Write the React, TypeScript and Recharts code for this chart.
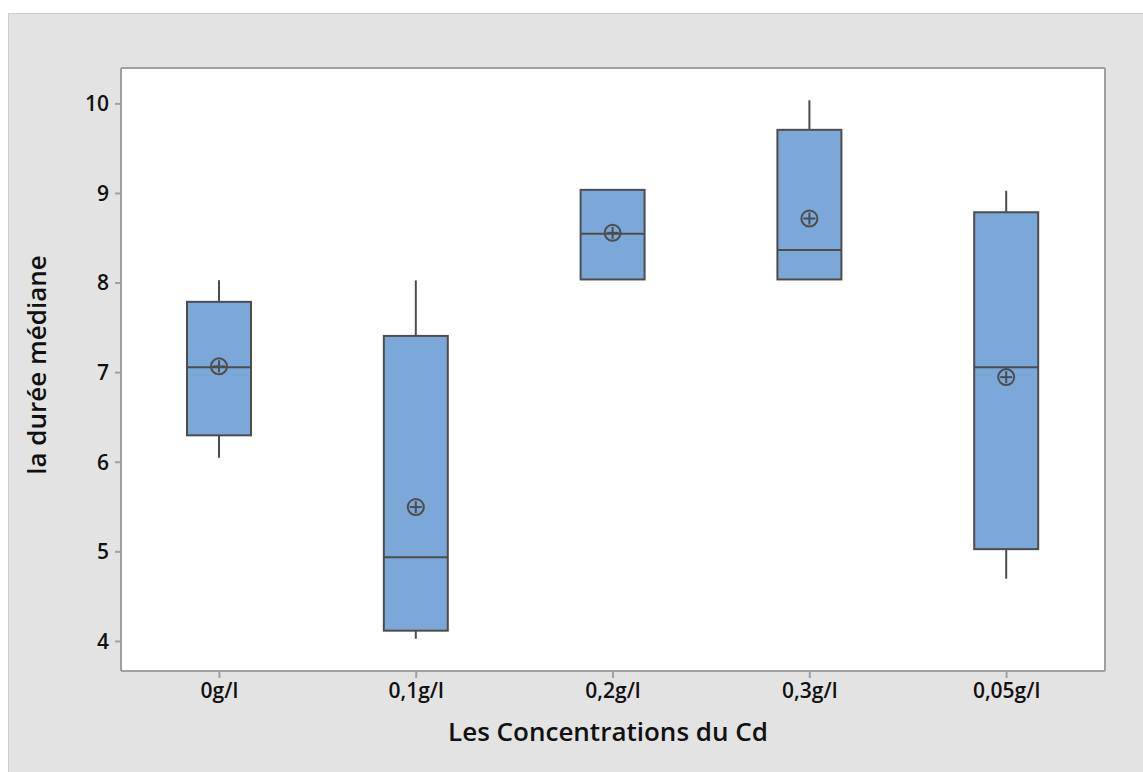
import { ComposedChart, Bar, XAxis, YAxis, CartesianGrid } from 'recharts'

const categories = ['0g/l', '0,1g/l', '0,2g/l', '0,3g/l', '0,05g/l']
const whiskerLow = [6.05, 4.03, 8.04, 8.04, 4.7]
const q1 = [6.3, 4.12, 8.04, 8.04, 5.03]
const medians = [7.06, 4.94, 8.55, 8.37, 7.06]
const q3 = [7.79, 7.41, 9.04, 9.71, 8.79]
const whiskerHigh = [8.03, 8.03, 9.04, 10.04, 9.03]
const means = [7.07, 5.5, 8.56, 8.72, 6.95]
const yTicks = [4, 5, 6, 7, 8, 9, 10]

const data = categories.map((name, i) => ({
    name,
    low: whiskerLow[i],
    q1: q1[i],
    median: medians[i],
    q3: q3[i],
    high: whiskerHigh[i],
    mean: means[i],
}))

const FONT = '"Open Sans", "Noto Sans", sans-serif'
const INK = '#4d4d4d'
const AXIS = '#a0a0a0'

function BoxShape(props: any) {
    const { x, y, width, height, payload } = props
    const top = Math.min(y, y + height)
    const h = Math.abs(height)
    const ppu = h / (payload.q3 - payload.q1)
    const py = (v: number) => top + (payload.q3 - v) * ppu
    const cx = x + width / 2
    const my = py(payload.mean)
    return (
        <g>
            <line x1={cx} x2={cx} y1={py(payload.high)} y2={top} stroke={INK} strokeWidth={2} />
            <line x1={cx} x2={cx} y1={top + h} y2={py(payload.low)} stroke={INK} strokeWidth={2} />
            <rect x={x} y={top} width={width} height={h} fill="#7ba7d9" stroke={INK} strokeWidth={2} />
            <line x1={x} x2={x + width} y1={py(payload.median)} y2={py(payload.median)} stroke={INK} strokeWidth={2} />
            <circle cx={cx} cy={my} r={8} fill="none" stroke={INK} strokeWidth={2} />
            <line x1={cx - 6} x2={cx + 6} y1={my} y2={my} stroke={INK} strokeWidth={2} />
            <line x1={cx} x2={cx} y1={my - 6} y2={my + 6} stroke={INK} strokeWidth={2} />
        </g>
    )
}

const tickStyle = { fill: '#111', fontSize: 21, fontFamily: FONT, fontWeight: 600 }

export default function App() {
    return (
        <div style={{ position: 'relative', width: 1143, height: 772, background: '#fff', overflow: 'hidden' }}>
            <style>{'body{margin:0;overflow:hidden}'}</style>
            <div
                style={{
                    position: 'absolute',
                    left: 8,
                    top: 13,
                    width: 1135,
                    height: 759,
                    boxSizing: 'border-box',
                    background: '#e3e3e3',
                    borderTop: '1px solid #cdcdcd',
                    borderLeft: '1px solid #cdcdcd',
                }}
            >
                <ComposedChart width={1134} height={758} data={data} margin={{ top: 54, right: 38, bottom: 61, left: 52 }}>
                    <CartesianGrid
                        fill="#fff"
                        stroke={AXIS}
                        strokeWidth={2}
                        horizontalPoints={[54, 657]}
                        verticalPoints={[112, 1096]}
                    />
                    <XAxis
                        dataKey="name"
                        height={40}
                        tick={tickStyle}
                        tickSize={7}
                        tickMargin={5}
                        axisLine={{ stroke: AXIS, strokeWidth: 2 }}
                        tickLine={{ stroke: AXIS, strokeWidth: 2 }}
                        label={(p: any) => (
                            <text x={599} y={727} textAnchor="middle" fill="#111" fontSize={26} fontWeight={600} fontFamily={FONT}>
                                Les Concentrations du Cd
                            </text>
                        )}
                    />
                    <YAxis
                        domain={[3.67, 10.4]}
                        ticks={yTicks}
                        allowDataOverflow
                        width={60}
                        tick={tickStyle}
                        tickSize={6}
                        tickMargin={6}
                        axisLine={{ stroke: AXIS, strokeWidth: 2 }}
                        tickLine={{ stroke: AXIS, strokeWidth: 2 }}
                        label={(p: any) => (
                            <text x={37} y={351} transform="rotate(-90 37 351)" textAnchor="middle" fill="#111" fontSize={26} fontWeight={600} fontFamily={FONT}>
                                la durée médiane
                            </text>
                        )}
                    />
                    <Bar
                        dataKey={(d: any) => [d.q1, d.q3]}
                        barSize={64}
                        shape={(p: any) => <BoxShape {...p} />}
                        isAnimationActive={false}
                    />
                </ComposedChart>
            </div>
        </div>
    )
}
